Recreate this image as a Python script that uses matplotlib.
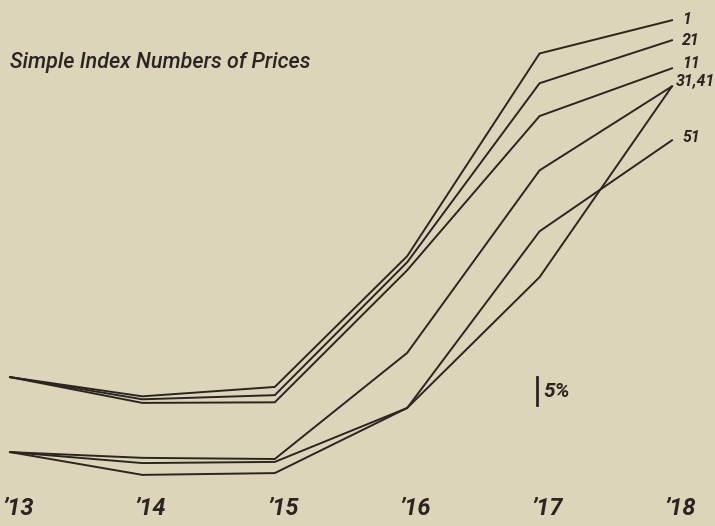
import numpy as np
import matplotlib
matplotlib.use("Agg")
import matplotlib.pyplot as plt

# index numbers, 1913 = 100
years = [1913, 1914, 1915, 1916, 1917, 1918]
year_labels = ["\u201913", "\u201914", "\u201915", "\u201916", "\u201917", "\u201918"]

f1 = [100, 96.7, 98.3, 123.5, 175.9, 186.4]
f21 = [100, 96.2, 96.9, 122.2, 167.0, 180.0]
f11 = [100, 95.6, 95.7, 120.5, 157.7, 171.4]
f31 = [100, 99.0, 98.8, 118.9, 163.5, 189.3]
f41 = [100, 98.1, 98.3, 108.0, 135.7, 189.3]
f51 = [100, 96.1, 96.4, 108.0, 147.0, 172.3]

upper = [("1", f1), ("21", f21), ("11", f11)]
lower = [("31", f31), ("41", f41), ("51", f51)]

BG = "#ddd5b9"
INK = "#2b2522"
SHIFT = 10 ** (-75 / 1320)   # lower group drawn lower on the sheet

plt.rcParams['font.family'] = ['Roboto', 'DejaVu Sans']

fig = plt.figure(figsize=(7.15, 5.26), dpi=100, facecolor=BG)
ax = fig.add_axes([0, 0, 1, 1])
ax.set_facecolor(BG)
ax.set_yscale('log')
ax.set_xlim(1912.9245, 1918.325)
ax.set_ylim(77.12, 193.1)
ax.axis('off')

for name, vals in upper:
    ax.plot(years, vals, color=INK, lw=1.4, solid_joinstyle='miter')
for name, vals in lower:
    ax.plot(years, np.array(vals) * SHIFT, color=INK, lw=1.4, solid_joinstyle='miter')

# end labels
lab = dict(color=INK, fontsize=11.5, style='italic', fontweight='bold', va='center')
ax.annotate("1", (years[-1], f1[-1]), xytext=(10, 1), textcoords='offset pixels', **lab)
ax.annotate("21", (years[-1], f21[-1]), xytext=(10, 0), textcoords='offset pixels', **lab)
ax.annotate("11", (years[-1], f11[-1]), xytext=(10, 5), textcoords='offset pixels', **lab)
ax.annotate("31,41", (years[-1], f31[-1] * SHIFT), xytext=(4, 6), textcoords='offset pixels', **lab)
ax.annotate("51", (years[-1], f51[-1] * SHIFT), xytext=(10, 3), textcoords='offset pixels', **lab)

# 5% scale bar
bx = 1916.98
ax.plot([bx, bx], [100 / 1.05, 100], color=INK, lw=2.0)
ax.text(bx + 0.05, 100 / np.sqrt(1.05), "5%", color=INK, fontsize=15,
        style='italic', fontweight='bold', va='center', ha='left')

# year labels
for yr, lb in zip(years, year_labels):
    ax.text(yr + 0.06, 0.012, lb, transform=ax.get_xaxis_transform(), color=INK,
            fontsize=17, style='italic', fontweight='bold', ha='center', va='bottom')

ax.text(0.014, 0.882, "Simple Index Numbers of Prices", transform=ax.transAxes,
        color=INK, fontsize=15.5, style='italic', fontweight='medium',
        ha='left', va='center')

fig.savefig("out.png", dpi=100, facecolor=BG)
